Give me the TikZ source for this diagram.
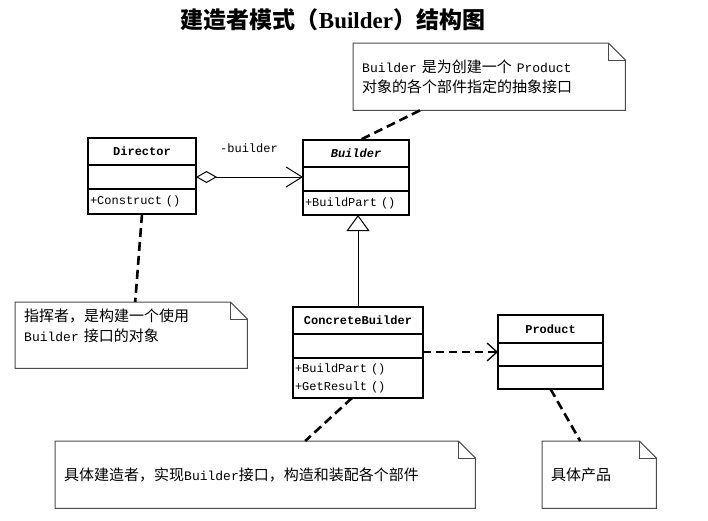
\documentclass[tikz,border=0pt]{standalone}
\usepackage{fontspec}
\setmainfont{Liberation Serif}
\setmonofont{Liberation Mono}
\newfontfamily\cjk{Noto Sans CJK SC}
\usetikzlibrary{arrows.meta,positioning}

% latin words inside the chinese notes
\newcommand\en[1]{{\ttfamily\fontsize{13}{20}\selectfont #1}}
% outline of a note with its folded corner
\newcommand\drawnote[1]{%
  \draw[noteline] (#1.north west) -- ([xshift=-17]#1.north east)
    -- ([yshift=-17]#1.north east) -- (#1.south east) -- (#1.south west) -- cycle;
  \draw[noteline] ([xshift=-17]#1.north east) -- ([xshift=-17,yshift=-17]#1.north east)
    -- ([yshift=-17]#1.north east);}

\tikzset{
  umlrow/.style={draw, line width=1.2pt, outer sep=0pt, inner sep=0pt,
    minimum width=#1, minimum height=24},
  umlname/.style={umlrow=#1, minimum height=27,
    font=\ttfamily\bfseries\fontsize{12}{14}\selectfont},
  umlops/.style={umlrow=#1, inner xsep=2pt, align=left,
    font=\ttfamily\fontsize{12}{18}\selectfont},
  note/.style={anchor=north west, inner xsep=9pt, inner ysep=0pt, align=left,
    font=\cjk\fontsize{15}{20}\selectfont},
  noteline/.style={line width=1pt, black!70},
  notelink/.style={line width=2.6pt, dash pattern=on 9pt off 5pt},
  aggr/.style={line width=0.8pt,
    {Diamond[open,length=21pt,width=12pt,line width=1pt]}-{Straight Barb[length=16pt,width=20pt,line width=1pt]}},
  inherit/.style={line width=0.8pt, -{Triangle[open,length=16pt,width=23pt,line width=1pt]}},
  depend/.style={line width=2.6pt, dash pattern=on 8pt off 5pt,
    -{Straight Barb[length=10pt,width=18pt,line width=1.3pt]}},
}

\begin{document}
\begin{tikzpicture}[x=1pt, y=-1pt]
  \useasboundingbox (0,0) rectangle (708,520);

  \node[font=\cjk\bfseries\fontsize{23}{26}\selectfont] (title) at (333,20)
    {建造者模式（{\rmfamily Builder}）结构图};

  % Director
  \node[umlname=108, anchor=north west] (dname) at (88,138) {Director};
  \node[umlrow=108, below=0pt of dname] (dattr) {};
  \node[umlops=108, minimum height=25, text width=104, below=0pt of dattr] (dops) {+Construct ()};

  % Builder
  \node[umlname=106, anchor=north west] (bname) at (303,140) {\textit{Builder}};
  \node[umlrow=106, below=0pt of bname] (battr) {};
  \node[umlops=106, text width=102, below=0pt of battr] (bops) {+BuildPart ()};

  % ConcreteBuilder
  \node[umlname=130, anchor=north west] (cbname) at (293,307) {ConcreteBuilder};
  \node[umlrow=130, below=0pt of cbname] (cbattr) {};
  \node[umlops=130, minimum height=40, text width=126, below=0pt of cbattr] (cbops)
    {+BuildPart ()\\+GetResult ()};

  % Product
  \node[umlname=105, minimum height=28, anchor=north west] (pname) at (498,315) {Product};
  \node[umlrow=105, minimum height=23, below=0pt of pname] (pattr) {};
  \node[umlrow=105, minimum height=23, below=0pt of pattr] (pops) {};

  % notes
  \node[note, minimum width=272, minimum height=67, text width=254] (bnote) at (353,43)
    {\en{Builder} 是为创建一个 \en{Product}\\对象的各个部件指定的抽象接口};
  \node[note, minimum width=232, minimum height=66, text width=214] (dnote) at (15,302)
    {指挥者，是构建一个使用\\\en{Builder} 接口的对象\\\mbox{}};
  \node[note, minimum width=420, minimum height=67, text width=402] (cbnote) at (55,441)
    {具体建造者，实现\en{Builder}接口，构造和装配各个部件};
  \node[note, minimum width=114, minimum height=67, text width=96] (pnote) at (542,441)
    {具体产品};
  \drawnote{bnote}
  \drawnote{dnote}
  \drawnote{cbnote}
  \drawnote{pnote}

  % relations
  \draw[aggr] (dattr.east) -- (dattr.east -| battr.west);
  \node[font=\ttfamily\fontsize{12}{14}\selectfont] (role) at (249,148) {-builder};
  \draw[inherit] (cbname.north) -- (cbname.north |- bops.south);
  \draw[depend] ([yshift=-6]cbattr.east) -- ([yshift=-6]cbattr.east -| pname.west);

  % note links
  \draw[notelink] ([xshift=67]bnote.south west) -- ([xshift=4]bname.north);
  \draw[notelink] (dops.south) -- ([xshift=4]dnote.north);
  \draw[notelink] ([xshift=-6]cbops.south) -- ([xshift=40]cbnote.north);
  \draw[notelink] (pops.south) -- ([xshift=-19]pnote.north);
\end{tikzpicture}
\end{document}
